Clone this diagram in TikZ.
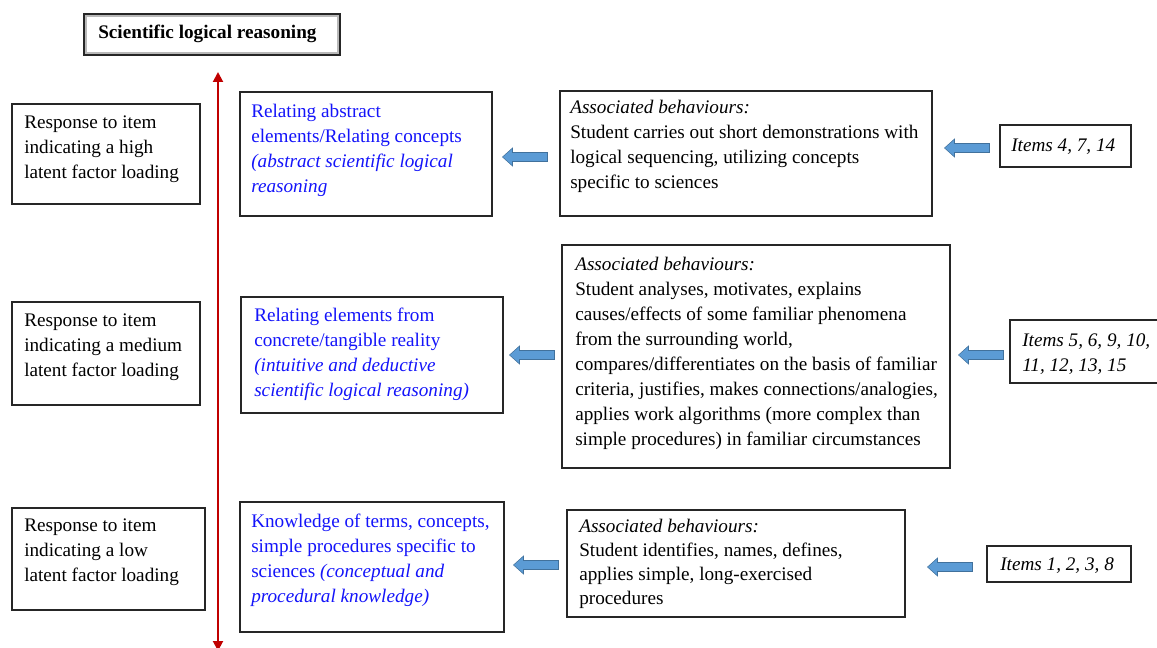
\documentclass[tikz,border=0pt]{standalone}
\usepackage{fontspec}
\setmainfont{Liberation Serif}
\usetikzlibrary{arrows.meta}
\definecolor{relblue}{RGB}{20,20,250}
\definecolor{arrfill}{RGB}{91,155,213}
\definecolor{arredge}{RGB}{65,113,156}
\definecolor{axisred}{RGB}{192,0,0}
\newcommand\mybox[5]{\node[box, minimum width={(#4-#2)*0.75pt}, minimum height={(#5-#3)*0.75pt}] (#1) at ({(#2+#4)/2},{(#3+#5)/2}) {};}
\begin{document}
\begin{tikzpicture}[x=0.75pt,y=-0.75pt,
  box/.style={draw=black!85, line width=0.9pt, fill=white, inner sep=0pt},
  txt/.style={anchor=north west, inner sep=0pt, align=left, font=\fontsize{14.4pt}{18.75pt}\selectfont, yshift=-1.5pt},
  reltxt/.style={txt, text=relblue},
  blarrow/.pic={\draw[fill=arrfill, draw=arredge, line width=0.4pt] (-22.5,0) -- (-12.5,-9) -- (-12.5,-4.5) -- (22.5,-4.5) -- (22.5,4.5) -- (-12.5,4.5) -- (-12.5,9) -- cycle;}]
\useasboundingbox (0,0) rectangle (1157,648);

% title
\mybox{title}{84}{14}{340}{55}
\draw[gray!55, line width=1.5pt] ([xshift=2pt,yshift=-2pt]title.north west) rectangle ([xshift=-2pt,yshift=2pt]title.south east);
\node[txt, font=\fontsize{14.4pt}{18.75pt}\selectfont\bfseries] (titlet) at (98,23) {Scientific logical reasoning};

% vertical axis
\coordinate (atop) at (218,72);
\coordinate (abot) at (218,651);
\draw[axisred, line width=1.5pt, {Triangle[width=7.5pt,length=7.5pt]}-{Triangle[width=7.5pt,length=7.5pt]}] (abot) -- (atop);

% left boxes
\mybox{hl}{12}{104}{200}{204}
\node[txt] (hlt) at (24,113.5) {Response to item\\indicating a high\\latent factor loading};
\mybox{ml}{12}{302}{200}{405}
\node[txt] (mlt) at (24,312) {Response to item\\indicating a medium\\latent factor loading};
\mybox{ll}{12}{508}{205}{610}
\node[txt] (llt) at (24,517) {Response to item\\indicating a low\\latent factor loading};

% middle boxes
\mybox{tm}{240}{92}{492}{216}
\node[reltxt] (tmt) at (251,101.5) {Relating abstract\\elements/Relating concepts\\\textit{(abstract scientific logical}\\\textit{reasoning}};
\mybox{mm}{241}{297}{503}{413}
\node[reltxt] (mmt) at (254,305.5) {Relating elements from\\concrete/tangible reality\\\textit{(intuitive and deductive}\\\textit{scientific logical reasoning)}};
\mybox{lm}{240}{502}{504}{632}
\node[reltxt] (lmt) at (251,511.5) {Knowledge of terms, concepts,\\simple procedures specific to\\sciences \textit{(conceptual and}\\\textit{procedural knowledge)}};

% behaviour boxes
\mybox{tb}{560}{91}{932}{216}
\node[txt] (tbt) at (570,98) {\textit{Associated behaviours:}\\Student carries out short demonstrations with\\logical sequencing, utilizing concepts\\specific to sciences};
\mybox{mb}{562}{245}{950}{468}
\node[txt] (mbt) at (575,254.5) {\textit{Associated behaviours:}\\Student analyses, motivates, explains\\causes/effects of some familiar phenomena\\from the surrounding world,\\compares/differentiates on the basis of familiar\\criteria, justifies, makes connections/analogies,\\applies work algorithms (more complex than\\simple procedures) in familiar circumstances};
\mybox{lb}{567}{510}{905}{617}
\node[txt, font=\fontsize{14.4pt}{18pt}\selectfont] (lbt) at (579,517) {\textit{Associated behaviours:}\\Student identifies, names, defines,\\applies simple, long-exercised\\procedures};

% item boxes
\mybox{ti}{1000}{125}{1131}{167}
\node[txt] (tit) at (1011,136.5) {\textit{Items 4, 7, 14}};
\mybox{mi}{1010}{320}{1175}{383}
\node[txt] (mit) at (1022,331) {\textit{Items 5, 6, 9, 10,}\\\textit{11, 12, 13, 15}};
\mybox{li}{987}{546}{1131}{582}
\node[txt] (lit) at (1000,555) {\textit{Items 1, 2, 3, 8}};

% block arrows
\pic at (525,157) {blarrow};
\pic at (532,355) {blarrow};
\pic at (536,565) {blarrow};
\pic at (967,148) {blarrow};
\pic at (981,355) {blarrow};
\pic at (950,567) {blarrow};
\end{tikzpicture}
\end{document}
